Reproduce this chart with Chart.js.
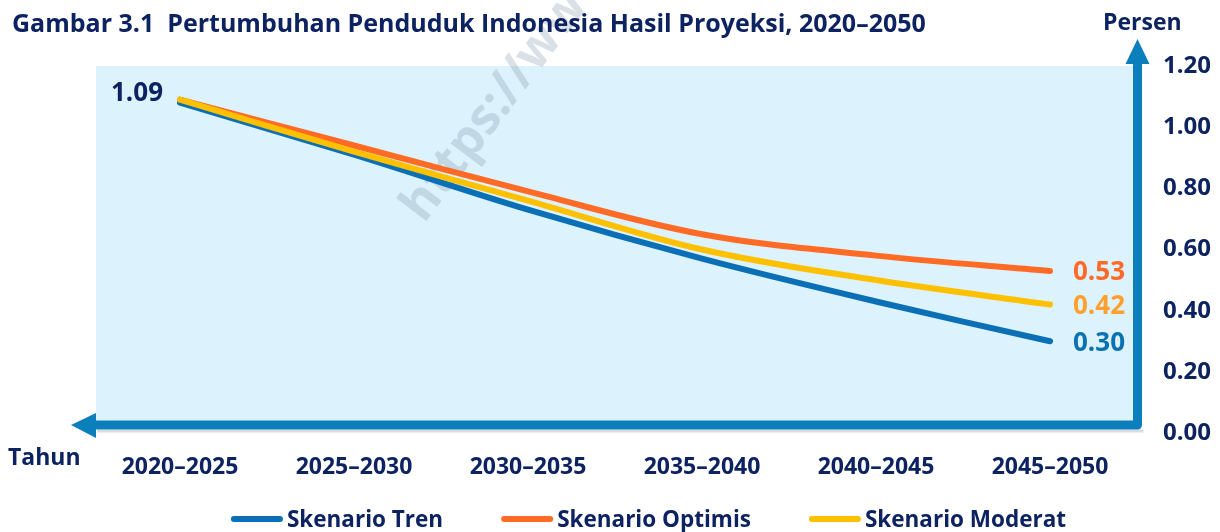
<!DOCTYPE html>
<html>
<head>
<meta charset="utf-8">
<script src="https://cdn.jsdelivr.net/npm/chart.js@4.4.1/dist/chart.umd.min.js"></script>
<style>
  html, body { margin: 0; padding: 0; background: #ffffff; }
  #wrap { width: 1220px; height: 532px; }
</style>
</head>
<body>
<div id="wrap"><canvas id="grafik" width="1220" height="532"></canvas></div>
<script>
// data dari gambar
const periode = ['2020–2025', '2025–2030', '2030–2035', '2035–2040', '2040–2045', '2045–2050'];
const skenarioTren = [1.08, 0.91, 0.73, 0.57, 0.43, 0.30];
const skenarioOptimis = [1.09, 0.94, 0.79, 0.65, 0.58, 0.53];
const skenarioModerat = [1.09, 0.92, 0.76, 0.60, 0.50, 0.42];
const tickPersen = [0, 0.2, 0.4, 0.6, 0.8, 1.0, 1.2];

const NAVY = '#0d2260';
const BIRU_SUMBU = '#0a7fbb';
const FONT = '"Open Sans", Lato, sans-serif';

const hiasan = {
  id: 'hiasan',
  beforeDatasetsDraw(chart) {
    const {ctx, chartArea: a} = chart;
    ctx.save();
    // latar area plot
    ctx.fillStyle = '#dcf2fc';
    ctx.fillRect(a.left + 3, a.top, a.right - a.left - 3, a.bottom - 12 - a.top);
    // watermark
    ctx.translate(424, 224);
    ctx.rotate(-53 * Math.PI / 180);
    ctx.font = 'bold 50px "Open Sans", sans-serif';
    ctx.fillStyle = 'rgba(140, 165, 180, 0.33)';
    ctx.fillText('https://www.bps.go.id', 0, 0);
    ctx.restore();
  },
  afterDatasetsDraw(chart) {
    const {ctx, chartArea: a} = chart;
    const yS = a.bottom - 8;
    const xS = a.right + 0.5;
    ctx.save();
    // bayangan sumbu
    ctx.strokeStyle = '#d8dde2';
    ctx.lineWidth = 3;
    ctx.beginPath();
    ctx.moveTo(97, yS + 6);
    ctx.lineTo(xS + 6, yS + 6);
    ctx.stroke();
    // sumbu bawah + panah kiri
    ctx.strokeStyle = BIRU_SUMBU;
    ctx.fillStyle = BIRU_SUMBU;
    ctx.lineWidth = 9;
    ctx.lineJoin = 'round';
    ctx.beginPath();
    ctx.moveTo(92, yS);
    ctx.lineTo(xS, yS);
    ctx.lineTo(xS, 60);
    ctx.stroke();
    ctx.beginPath();
    ctx.moveTo(96, yS - 12);
    ctx.lineTo(96, yS + 13);
    ctx.lineTo(71, yS);
    ctx.closePath();
    ctx.fill();
    // panah atas
    ctx.beginPath();
    ctx.moveTo(xS - 12, 64);
    ctx.lineTo(xS + 12, 64);
    ctx.lineTo(xS, 39);
    ctx.closePath();
    ctx.fill();

    // label nilai
    ctx.font = 'bold 26px ' + FONT;
    ctx.textBaseline = 'alphabetic';
    const awal = chart.getDatasetMeta(1).data[0];
    ctx.fillStyle = NAVY;
    ctx.textAlign = 'right';
    ctx.fillText(skenarioOptimis[0].toFixed(2), awal.x - 17, awal.y + 1);
    ctx.textAlign = 'left';
    const warnaLabel = ['#0a72b3', '#ff6a2a', '#ff9f2e'];
    chart.data.datasets.forEach((ds, i) => {
      const pts = chart.getDatasetMeta(i).data;
      const p = pts[pts.length - 1];
      ctx.fillStyle = warnaLabel[i];
      ctx.fillText(ds.data[ds.data.length - 1].toFixed(2), p.x + 23, p.y + 9.5);
    });
    ctx.restore();
  },
  afterDraw(chart) {
    const {ctx} = chart;
    ctx.save();
    ctx.fillStyle = NAVY;
    ctx.textBaseline = 'alphabetic';
    ctx.textAlign = 'left';
    ctx.font = 'bold 25px ' + FONT;
    ctx.fillText('Gambar 3.1  Pertumbuhan Penduduk Indonesia Hasil Proyeksi, 2020–2050', 12, 32);
    ctx.font = 'bold 23px ' + FONT;
    ctx.fillText('Persen', 1103, 30);
    ctx.fillText('Tahun', 8, 465);

    // legenda
    ctx.font = 'bold 22.5px ' + FONT;
    const item = chart.data.datasets.map(ds => ({
      teks: ds.label,
      warna: ds.borderColor,
      lebar: 57 + ctx.measureText(ds.label).width
    }));
    const jarak = 57;
    const total = item.reduce((s, it) => s + it.lebar, 0) + jarak * (item.length - 1);
    let x = 649 - total / 2;
    const yLeg = 519;
    item.forEach(it => {
      ctx.strokeStyle = it.warna;
      ctx.lineWidth = 6;
      ctx.lineCap = 'round';
      ctx.beginPath();
      ctx.moveTo(x + 3, yLeg);
      ctx.lineTo(x + 49, yLeg);
      ctx.stroke();
      ctx.fillStyle = NAVY;
      ctx.fillText(it.teks, x + 56, yLeg + 8);
      x += it.lebar + jarak;
    });
    ctx.restore();
  }
};

const ctx = document.getElementById('grafik').getContext('2d');
new Chart(ctx, {
  type: 'line',
  data: {
    labels: periode,
    datasets: [
      { label: 'Skenario Tren', data: skenarioTren, borderColor: '#0a6fb5', backgroundColor: '#0a6fb5', order: 2 },
      { label: 'Skenario Optimis', data: skenarioOptimis, borderColor: '#ff6a24', backgroundColor: '#ff6a24', order: 1 },
      { label: 'Skenario Moderat', data: skenarioModerat, borderColor: '#ffc000', backgroundColor: '#ffc000', order: 0 }
    ]
  },
  options: {
    responsive: false,
    animation: false,
    devicePixelRatio: 1,
    layout: { padding: { top: 66, left: 93, right: 0, bottom: 0 } },
    elements: {
      line: { borderWidth: 6, tension: 0.35, borderCapStyle: 'round', fill: false },
      point: { radius: 0, hoverRadius: 0 }
    },
    scales: {
      x: {
        offset: true,
        grid: { display: false, drawTicks: false },
        border: { display: false },
        ticks: { color: NAVY, font: { family: FONT, size: 23, weight: 'bold' }, padding: 21, maxRotation: 0, autoSkip: false },
        afterFit: s => { s.height = 532 - 433; }
      },
      y: {
        position: 'right',
        min: 0,
        max: 1.2,
        grid: { display: false, drawTicks: false },
        border: { display: false },
        afterBuildTicks: s => { s.ticks = tickPersen.map(v => ({ value: v })); },
        ticks: {
          color: NAVY,
          font: { family: FONT, size: 24, weight: 'bold' },
          padding: 26,
          callback: v => Number(v).toFixed(2)
        },
        afterFit: s => { s.width = 83; }
      }
    },
    plugins: {
      tooltip: { enabled: false },
      legend: { display: false }
    }
  },
  plugins: [hiasan]
});
</script>
</body>
</html>
